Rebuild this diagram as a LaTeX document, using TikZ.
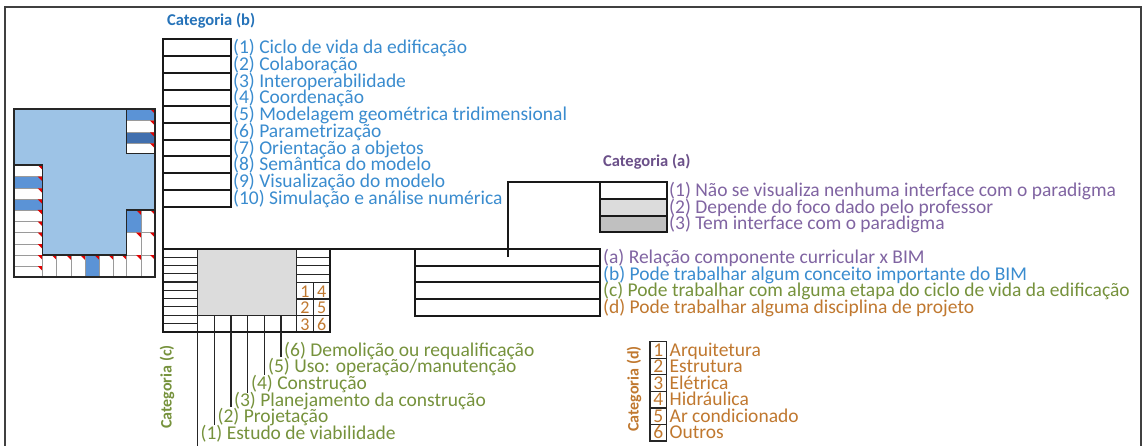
\documentclass[tikz,border=0pt]{standalone}
\usepackage{fontspec}
\setmainfont{Carlito}
\definecolor{lblue}{HTML}{9DC3E6}
\definecolor{mblue}{HTML}{5B93D6}
\definecolor{dblue}{HTML}{416FAE}
\definecolor{cellgray}{HTML}{9A9A9A}
\definecolor{icored}{HTML}{E00000}
\definecolor{tblue}{HTML}{3A8CCF}
\definecolor{hblue}{HTML}{2673B9}
\definecolor{tpurple}{HTML}{8064A2}
\definecolor{hpurple}{HTML}{6B5089}
\definecolor{tgreen}{HTML}{76923C}
\definecolor{tbrown}{HTML}{C0782F}
\definecolor{lgray}{HTML}{DCDCDC}
\definecolor{mgray}{HTML}{C0C0C0}
\definecolor{framec}{HTML}{404040}
\newcommand\iconcell[5]{%
  \filldraw[fill=#5,draw=cellgray,line width=0.6pt] (#1,#2) rectangle (#3,#4);
  \fill[icored] (#3,#2) -- ++(-5,0) -- ++(5,5) -- cycle;}
\begin{document}
\begin{tikzpicture}[x=1pt,y=-1pt,
  lbl/.style={anchor=base west,inner sep=0pt,text height=11.5pt,text depth=3pt,font=\fontsize{19.5}{20}\selectfont},
  digit/.style={anchor=base,inner sep=0pt,text height=11pt,text depth=0pt,text=tbrown},
  head/.style={anchor=base west,inner sep=0pt,font=\fontsize{16.5}{18}\selectfont\bfseries},
  vhead/.style={inner sep=0pt,rotate=90,font=\fontsize{16}{17}\selectfont\bfseries},
  thick line/.style={line width=2pt,draw=black!90},
  thin line/.style={line width=1.2pt,draw=black!85}]
\useasboundingbox (0,0) rectangle (1147,446);
\fill[white] (0,0) rectangle (1147,446);
% frame
\draw[framec,line width=1.5pt] (5,446) -- (5,7) -- (1141,7) -- (1141,446);

% ---------------- icon ----------------
\fill[lblue] (14,109) rectangle (155,277);
% top-right stack
\iconcell{126.7}{109}{155}{120.7}{mblue}
\iconcell{126.7}{120.7}{155}{132.3}{white}
\iconcell{126.7}{132.3}{155}{143.3}{dblue}
\iconcell{126.7}{143.3}{155}{153.3}{white}
% left column
\iconcell{14}{165}{42.7}{176.7}{white}
\iconcell{14}{176.7}{42.7}{188.3}{mblue}
\iconcell{14}{188.3}{42.7}{199.3}{white}
\iconcell{14}{199.3}{42.7}{210}{mblue}
\iconcell{14}{210}{42.7}{221.7}{white}
\iconcell{14}{221.7}{42.7}{232.7}{white}
\iconcell{14}{232.7}{42.7}{244}{white}
\iconcell{14}{244}{42.7}{255}{white}
\iconcell{14}{255}{42.7}{266}{white}
\iconcell{14}{266}{42.7}{277}{white}
% bottom strip
\iconcell{42.7}{255}{56.7}{277}{white}
\iconcell{56.7}{255}{71}{277}{white}
\iconcell{71}{255}{85}{277}{white}
\iconcell{85}{255}{99.3}{277}{mblue}
\iconcell{99.3}{255}{113.3}{277}{white}
\iconcell{113.3}{255}{126.7}{277}{white}
% right bottom block
\iconcell{126.7}{210}{141}{232.7}{mblue}
\iconcell{141}{210}{155}{232.7}{white}
\iconcell{126.7}{232.7}{141}{255}{white}
\iconcell{141}{232.7}{155}{255}{white}
\iconcell{126.7}{255}{141}{277}{white}
\iconcell{141}{255}{155}{277}{white}
% outlines
\draw[black!85,line width=1.3pt] (126.7,109) -- (126.7,153.3) -- (155,153.3)
  (155,210) -- (126.7,210) -- (126.7,255) -- (42.7,255) -- (42.7,165) -- (14,165);
\draw[black!85,line width=1.5pt] (14,109) rectangle (155,277);

% ---------------- category (b) ----------------
\node[head,text=hblue] (hb) at (167,25.5) {Categoria (b)};
\foreach \i in {0,...,9} {
  \draw[thick line] (163,{39.3+16.74*\i}) rectangle (231,{39.3+16.74*(\i+1)});
}
\foreach \i/\t in {0/{(1) Ciclo de vida da edificação},1/{(2) Colaboração},2/{(3) Interoperabilidade},
  3/{(4) Coordenação},4/{(5) Modelagem geométrica tridimensional},5/{(6) Parametrização},
  6/{(7) Orientação a objetos},7/{(8) Semântica do modelo},8/{(9) Visualização do modelo},
  9/{(10) Simulação e análise numérica}} {
  \node[lbl,text=tblue] (b\i) at (233,{53.7+16.74*\i}) {\t};
}

% ---------------- main structure ----------------
\coordinate (p1) at (163,206.7);
\coordinate (p2) at (163,249);
\coordinate (p3) at (600,249);
\coordinate (q1) at (508,182);
\coordinate (q2) at (508,257);
\coordinate (q3) at (600,182);
\draw[thick line] (p1) -- (163,331.7);
\draw[thick line] (p2) -- (p3);
\draw[thick line] (q2) -- (q1) -- (q3);

% category (a)
\node[head,text=hpurple] (ha) at (603,167) {Categoria (a)};
\filldraw[fill=white,thick line] (600,182) rectangle (666.7,199);
\filldraw[fill=lgray,thick line] (600,199) rectangle (666.7,215.7);
\filldraw[fill=mgray,thick line] (600,215.7) rectangle (666.7,232);
\node[lbl,text=tpurple] (a1) at (669,196.5) {(1) Não se visualiza nenhuma interface com o paradigma};
\node[lbl,text=tpurple] (a2) at (669,213.4) {(2) Depende do foco dado pelo professor};
\node[lbl,text=tpurple] (a3) at (669,229.8) {(3) Tem interface com o paradigma};

% legend box
\foreach \i in {0,...,3} {
  \draw[thick line] (415,{249+16.68*\i}) rectangle (600,{249+16.68*(\i+1)});
}
\node[lbl,text=tpurple] (l1) at (603,263.4) {(a) Relação componente curricular x BIM};
\node[lbl,text=tblue] (l2) at (603,280) {(b) Pode trabalhar algum conceito importante do BIM};
\node[lbl,text=tgreen] (l3) at (603,296.7) {(c) Pode trabalhar com alguma etapa do ciclo de vida da edificação};
\node[lbl,text=tbrown] (l4) at (603,313.4) {(d) Pode trabalhar alguma disciplina de projeto};

% ---------------- category (c) box ----------------
\fill[lgray] (197.7,249) rectangle (296.7,315);
\foreach \i in {1,...,9} { \draw[thin line] (163,{249+8.27*\i}) -- (197.7,{249+8.27*\i}); }
\foreach \i in {1,...,4} { \draw[thin line] (296.7,{249+8.37*\i}) -- (330,{249+8.37*\i}); }
\draw[thin line] (296.7,299) -- (330,299) (296.7,315.5) -- (330,315.5) (313.3,282.5) -- (313.3,331.7);
\draw[thin line] (197.7,249) -- (197.7,331.7) (296.7,249) -- (296.7,331.7) (197.7,315.2) -- (296.7,315.2);
\foreach \x in {214.3,231,247.7,264.3,281} { \draw[thin line] (\x,315.2) -- (\x,331.7); }
\draw[thick line] (163,249) rectangle (330,331.7);
\foreach \n/\x/\y in {1/305/297,2/305/313.5,3/305/330,4/321.7/297,5/321.7/313.5,6/321.7/330} {
  \node[digit,font=\fontsize{18}{18}\selectfont] (n\n) at (\x,\y) {\n};
}
% stage lines
\foreach \x/\yb in {197.7/446,214.3/425,231/407,247.7/393,264.3/375,281/357} {
  \draw[thin line] (\x,331.7) -- (\x,\yb);
}
\node[lbl,text=tgreen] (c6) at (284,356) {(6) Demolição ou requalificação};
\node[lbl,text=tgreen] (c5) at (268,372.7) {(5) Uso: operação/manutenção};
\node[lbl,text=tgreen] (c4) at (251,389.3) {(4) Construção};
\node[lbl,text=tgreen] (c3) at (234,406) {(3) Planejamento da construção};
\node[lbl,text=tgreen] (c2) at (217.5,422.7) {(2) Projetação};
\node[lbl,text=tgreen] (c1) at (200.5,439.3) {(1) Estudo de viabilidade};
\node[vhead,text=tgreen] (hc) at (167,387) {Categoria (c)};

% ---------------- category (d) ----------------
\node[vhead,text=tbrown] (hd) at (634,389) {Categoria (d)};
\foreach \i/\t in {1/Arquitetura,2/Estrutura,3/Elétrica,4/Hidráulica,5/Ar condicionado,6/Outros} {
  \draw[black!85,line width=1.3pt] (650,{341.7+16.55*(\i-1)}) rectangle (666.5,{341.7+16.55*\i});
  \node[digit,font=\fontsize{19.5}{20}\selectfont] (dn\i) at (658.2,{341.7+16.55*(\i-1)+14.5}) {\i};
  \node[lbl,text=tbrown] (d\i) at (669.5,{341.7+16.55*(\i-1)+14.5}) {\t};
}
\end{tikzpicture}
\end{document}
